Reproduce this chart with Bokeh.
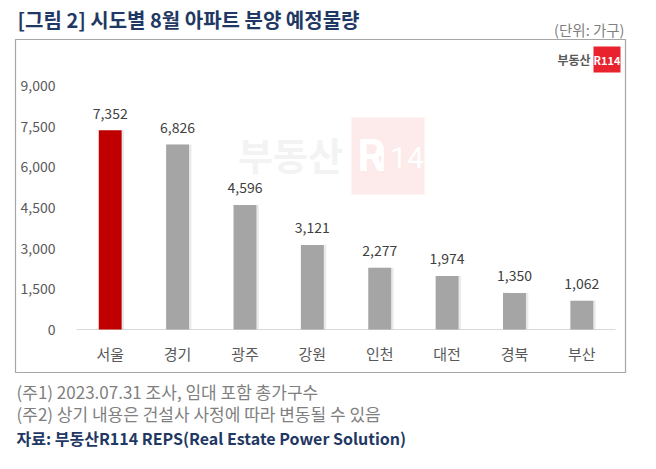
from bokeh.plotting import figure
from bokeh.layouts import column
from bokeh.models import (ColumnDataSource, Range1d, FixedTicker,
                          NumeralTickFormatter, LabelSet, Label, BoxAnnotation)
from bokeh.core.properties import value
from bokeh.embed import file_html
from bokeh.resources import INLINE

# ---- data ----
regions = ["서울", "경기", "광주", "강원", "인천", "대전", "경북", "부산"]
values = [7352, 6826, 4596, 3121, 2277, 1974, 1350, 1062]
y_ticks = [0, 1500, 3000, 4500, 6000, 7500, 9000]
title_text = "[그림 2] 시도별 8월 아파트 분양 예정물량"
unit_text = "(단위: 가구)"
note1 = "(주1) 2023.07.31 조사, 임대 포함 총가구수"
note2 = "(주2) 상기 내용은 건설사 사정에 따라 변동될 수 있음"
source_text = "자료: 부동산R114 REPS(Real Estate Power Solution)"

FONT = "Noto Sans CJK KR"
NAVY = "#1F3864"
GRAY_TXT = "#7F7F7F"
BL, BR = 15, 31  # shared left/right borders so frames line up


def text_panel(height):
    f = figure(width=656, height=height, output_backend="svg", toolbar_location=None,
               x_axis_type=None, y_axis_type=None,
               x_range=Range1d(0, 1), y_range=Range1d(0, 1),
               min_border_left=BL, min_border_right=BR,
               min_border_top=0, min_border_bottom=0)
    f.outline_line_color = None
    f.xgrid.grid_line_color = None
    f.ygrid.grid_line_color = None
    return f


def lab(fig, x, y, text, size, color, bold=False, align="left", font=FONT, level="annotation"):
    fig.add_layout(Label(x=x, y=y, x_units="screen", y_units="screen", text=text,
                         text_font=font, text_font_style="bold" if bold else "normal",
                         text_font_size=size, text_color=color,
                         text_align=align, text_baseline="middle", level=level))


# ---- top: title + unit ----
top = text_panel(39)
lab(top, 2, 20.5, title_text, "20px", NAVY, bold=True)
lab(top, 609, 10, unit_text, "14.5px", GRAY_TXT, align="right")

# ---- main chart (frame = bordered box) ----
idx = list(range(len(regions)))
bar_colors = ["#C00000"] + ["#A5A5A5"] * (len(regions) - 1)
src = ColumnDataSource(dict(
    x=idx, value=values, color=bar_colors,
    label=[f"{v:,}" for v in values],
))

p = figure(width=656, height=334, output_backend="svg", toolbar_location=None,
           x_range=Range1d(-1.4056, 7.648), y_range=Range1d(-1623, 10697),
           min_border_left=BL, min_border_right=BR,
           min_border_top=0, min_border_bottom=0)
p.outline_line_color = "#A6A6A6"
p.outline_line_width = 1.2
p.background_fill_color = "white"
p.border_fill_color = "white"
p.xgrid.grid_line_color = None
p.ygrid.grid_line_color = None

# watermark (underlay)
p.add_layout(BoxAnnotation(left=336, right=409, top=256, bottom=179,
                           left_units="screen", right_units="screen",
                           top_units="screen", bottom_units="screen",
                           fill_color="#FDEAEA", fill_alpha=1, line_color=None,
                           level="underlay"))
lab(p, 275, 220, "부동산", "38px", "#F3F3F3", bold=True, align="center", level="underlay")
lab(p, 356, 218, "R", "44px", "#FFFFFF", bold=True, align="center", font="Roboto", level="underlay")
lab(p, 383, 216, "114", "30px", "#FFFFFF", align="center", font="Roboto", level="underlay")

# baseline spanning the categories
base = ColumnDataSource(dict(x0=[idx[0] - 0.5], x1=[idx[-1] + 0.5], y=[0]))
p.segment(x0="x0", x1="x1", y0="y", y1="y", source=base,
          line_color="#D9D9D9", line_width=1)

# bars with slight shadow
shadow = ColumnDataSource(dict(x=[i + 0.035 for i in idx], value=values))
p.vbar(x="x", top="value", width=0.34, source=shadow,
       fill_color="#BFBFBF", fill_alpha=0.35, line_color=None)
p.vbar(x="x", top="value", width=0.34, source=src,
       fill_color="color", line_color=None)

p.add_layout(LabelSet(x="x", y="value", text="label", source=src,
                      y_offset=17, text_align="center", text_baseline="middle",
                      text_font=value(FONT), text_font_size=value("14px"),
                      text_color=value("#404040")))

# axes placed inside the frame
p.yaxis.fixed_location = -0.6486
p.yaxis.ticker = FixedTicker(ticks=y_ticks)
p.yaxis.formatter = NumeralTickFormatter(format="0,0")
p.yaxis.axis_line_color = None
p.yaxis.major_tick_line_color = None
p.yaxis.minor_tick_line_color = None
p.yaxis.major_label_standoff = 5
p.yaxis.major_label_text_font = FONT
p.yaxis.major_label_text_font_size = "14px"
p.yaxis.major_label_text_color = "#595959"

p.xaxis.fixed_location = 0
p.xaxis.ticker = FixedTicker(ticks=idx)
p.xaxis.major_label_overrides = {i: r for i, r in zip(idx, regions)}
p.xaxis.axis_line_color = None
p.xaxis.major_tick_line_color = None
p.xaxis.minor_tick_line_color = None
p.xaxis.major_label_standoff = 8
p.xaxis.major_label_text_font = FONT
p.xaxis.major_label_text_font_size = "15px"
p.xaxis.major_label_text_color = "#595959"

# logo top-right
p.add_layout(BoxAnnotation(left=578, right=605, top=327, bottom=301,
                           left_units="screen", right_units="screen",
                           top_units="screen", bottom_units="screen",
                           fill_color="#E8232D", fill_alpha=1, line_color=None))
lab(p, 591.5, 314, "R114", "11px", "white", bold=True, align="center")
lab(p, 575, 314, "부동산", "12px", "#595959", bold=True, align="right")

# ---- bottom notes ----
bot = text_panel(96)
lab(bot, 1, 78, note1, "17px", GRAY_TXT)
lab(bot, 1, 56, note2, "17px", GRAY_TXT)
lab(bot, 1, 32, source_text, "16px", NAVY, bold=True)

layout = column(top, p, bot, spacing=0)
open("out.html", "w").write(file_html(layout, INLINE))
